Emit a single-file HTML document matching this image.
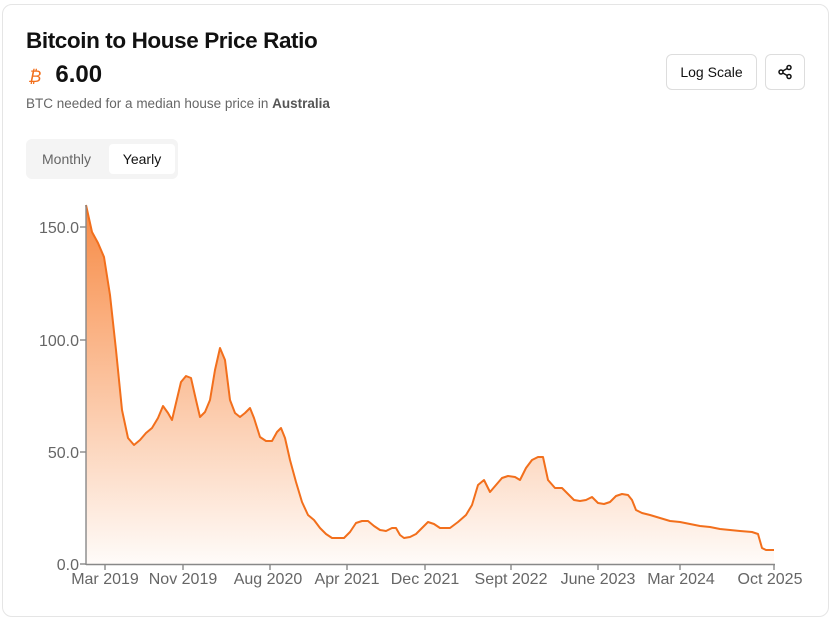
<!DOCTYPE html>
<html><head><meta charset="utf-8"><style>
body{margin:0;width:837px;height:622px;background:#fff;font-family:"Liberation Sans",sans-serif;overflow:hidden}
.card{position:absolute;left:2px;top:4px;width:827px;height:613px;border:1px solid #e5e5e5;border-radius:10px;box-sizing:border-box}
.t{position:absolute;left:26px;top:28px;font-size:22.5px;font-weight:bold;color:#111;letter-spacing:-0.4px}
.v{position:absolute;left:28px;top:61px;font-size:24px;font-weight:bold;color:#111}
.v span{color:#f26f1c;font-style:italic;font-size:17px;margin-right:14px;font-weight:normal}
.s{position:absolute;left:26px;top:96px;font-size:13.5px;color:#666}
.s b{color:#555}
.tabs{position:absolute;left:26px;top:139px;width:152px;height:40px;background:#f4f4f4;border-radius:6px}
.tabs div{position:absolute;top:5px;height:30px;line-height:30px;font-size:14px}
.btn{position:absolute;top:54px;height:36px;border:1px solid #ddd;border-radius:6px;box-sizing:border-box;font-size:14px;line-height:34px;text-align:center;color:#111}
</style></head><body>
<div class="card"></div>
<div class="t">Bitcoin to House Price Ratio</div>
<div class="v"><span>₿</span>6.00</div>
<div class="s">BTC needed for a median house price in <b>Australia</b></div>
<div class="tabs"><div style="left:16px;color:#666">Monthly</div><div style="left:83px;width:66px;background:#fff;border-radius:4px;text-align:center;color:#111">Yearly</div></div>
<div class="btn" style="left:666px;width:91px">Log Scale</div>
<div class="btn" style="left:765px;width:40px"><svg width="16" height="16" viewBox="0 0 16 16" style="margin-top:9px"><g fill="none" stroke="#111" stroke-width="1.5"><circle cx="12" cy="3.5" r="2"/><circle cx="4" cy="8" r="2"/><circle cx="12" cy="12.5" r="2"/><path d="M5.8 7 10.2 4.5M5.8 9 10.2 11.5"/></g></svg></div>
<svg width="837" height="622" style="position:absolute;left:0;top:0">
<defs><linearGradient id="g" x1="0" y1="0" x2="0" y2="1"><stop offset="0" stop-color="#f7843a" stop-opacity="0.95"/><stop offset="1" stop-color="#f7843a" stop-opacity="0.03"/></linearGradient></defs>
<polygon fill="url(#g)" points="86,564 86,205 92,232 98,243 104,257 110,295 116,350 122,410 128,438 134,445 140,440 146,433 152,428 158,418 163,406 168,413 172,420 176,403 181,382 186,376 191,378 196,400 200,417 205,412 210,400 215,370 220,348 225,360 230,400 235,413 240,417 245,413 250,408 254,418 260,437 266,441 272,441 277,432 281,428 285,438 290,460 296,482 302,502 308,515 314,520 320,528 326,534 332,538 338,538 344,538 350,532 356,523 362,521 368,521 374,526 380,530 386,531 392,528 396,528 400,535 404,538 410,537 416,534 422,528 428,522 434,524 440,528 450,528 458,522 466,515 472,505 478,485 484,480 490,492 496,485 502,478 508,476 515,477 520,480 526,468 532,460 538,457 543,457 548,480 555,488 562,488 568,494 574,500 580,501 586,500 592,497 598,503 604,504 610,502 616,496 622,494 628,495 632,500 636,510 642,513 650,515 660,518 670,521 680,522 690,524 700,526 710,527 720,529 730,530 740,531 752,532 758,534 762,548 766,550 774,550 774,564"/>
<polyline fill="none" stroke="#f26f1c" stroke-width="2" stroke-linejoin="round" points="86,205 92,232 98,243 104,257 110,295 116,350 122,410 128,438 134,445 140,440 146,433 152,428 158,418 163,406 168,413 172,420 176,403 181,382 186,376 191,378 196,400 200,417 205,412 210,400 215,370 220,348 225,360 230,400 235,413 240,417 245,413 250,408 254,418 260,437 266,441 272,441 277,432 281,428 285,438 290,460 296,482 302,502 308,515 314,520 320,528 326,534 332,538 338,538 344,538 350,532 356,523 362,521 368,521 374,526 380,530 386,531 392,528 396,528 400,535 404,538 410,537 416,534 422,528 428,522 434,524 440,528 450,528 458,522 466,515 472,505 478,485 484,480 490,492 496,485 502,478 508,476 515,477 520,480 526,468 532,460 538,457 543,457 548,480 555,488 562,488 568,494 574,500 580,501 586,500 592,497 598,503 604,504 610,502 616,496 622,494 628,495 632,500 636,510 642,513 650,515 660,518 670,521 680,522 690,524 700,526 710,527 720,529 730,530 740,531 752,532 758,534 762,548 766,550 774,550"/>
<g stroke="#888" stroke-width="1.4"><line x1="86" y1="205" x2="86" y2="565"/><line x1="86" y1="564.5" x2="775" y2="564.5"/>
<line x1="80" y1="227" x2="86" y2="227"/><line x1="80" y1="340" x2="86" y2="340"/><line x1="80" y1="452" x2="86" y2="452"/><line x1="80" y1="564" x2="86" y2="564"/>
<line x1="105" y1="564" x2="105" y2="570"/><line x1="183" y1="564" x2="183" y2="570"/><line x1="270" y1="564" x2="270" y2="570"/><line x1="347" y1="564" x2="347" y2="570"/><line x1="425" y1="564" x2="425" y2="570"/><line x1="511" y1="564" x2="511" y2="570"/><line x1="598" y1="564" x2="598" y2="570"/><line x1="680" y1="564" x2="680" y2="570"/><line x1="774" y1="564" x2="774" y2="570"/></g>
<g font-size="16" fill="#666" text-anchor="end" font-family="Liberation Sans,sans-serif"><text x="79" y="233">150.0</text><text x="79" y="346">100.0</text><text x="79" y="458">50.0</text><text x="79" y="570">0.0</text></g>
<g font-size="16" fill="#666" text-anchor="middle" font-family="Liberation Sans,sans-serif"><text x="105" y="584">Mar 2019</text><text x="183" y="584">Nov 2019</text><text x="268" y="584">Aug 2020</text><text x="347" y="584">Apr 2021</text><text x="425" y="584">Dec 2021</text><text x="511" y="584">Sept 2022</text><text x="598" y="584">June 2023</text><text x="681" y="584">Mar 2024</text><text x="770" y="584">Oct 2025</text></g>
</svg>
</body></html>
